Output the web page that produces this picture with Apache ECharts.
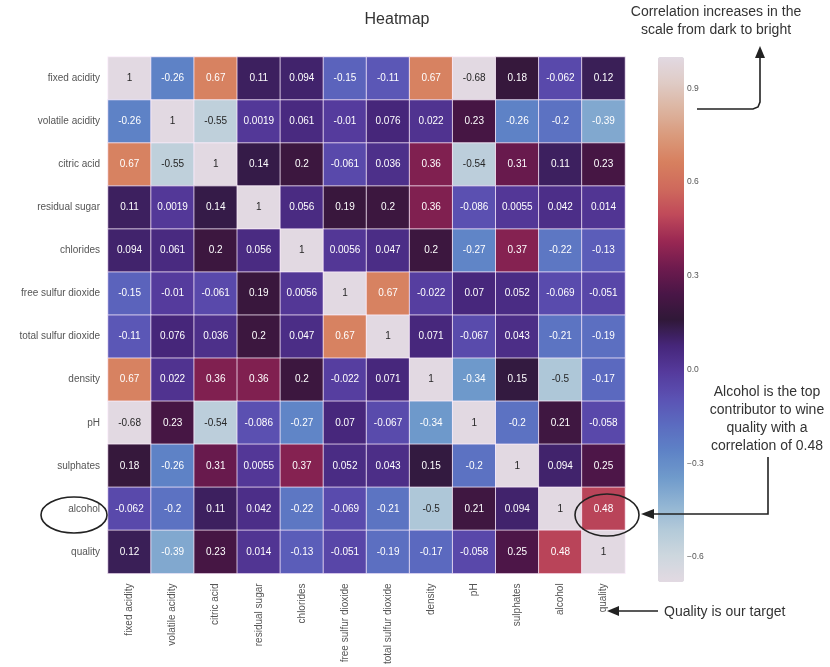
<!DOCTYPE html>
<html>
<head>
<meta charset="utf-8">
<title>Heatmap</title>
<script src="https://cdn.jsdelivr.net/npm/echarts@6.0.0/dist/echarts.min.js"></script>
<style>
  html, body { margin: 0; padding: 0; background: #ffffff; }
  #chart { width: 830px; height: 667px; }
</style>
</head>
<body>
<div id="chart"></div>
<script>
// Wine-quality features, in matrix order
const features = [
  'fixed acidity', 'volatile acidity', 'citric acid', 'residual sugar',
  'chlorides', 'free sulfur dioxide', 'total sulfur dioxide', 'density',
  'pH', 'sulphates', 'alcohol', 'quality'
];

// Pearson correlation of each feature against every feature (row by row)
const fixedAcidity       = [1, -0.26, 0.67, 0.11, 0.094, -0.15, -0.11, 0.67, -0.68, 0.18, -0.062, 0.12];
const volatileAcidity    = [-0.26, 1, -0.55, 0.0019, 0.061, -0.01, 0.076, 0.022, 0.23, -0.26, -0.2, -0.39];
const citricAcid         = [0.67, -0.55, 1, 0.14, 0.2, -0.061, 0.036, 0.36, -0.54, 0.31, 0.11, 0.23];
const residualSugar      = [0.11, 0.0019, 0.14, 1, 0.056, 0.19, 0.2, 0.36, -0.086, 0.0055, 0.042, 0.014];
const chlorides          = [0.094, 0.061, 0.2, 0.056, 1, 0.0056, 0.047, 0.2, -0.27, 0.37, -0.22, -0.13];
const freeSulfurDioxide  = [-0.15, -0.01, -0.061, 0.19, 0.0056, 1, 0.67, -0.022, 0.07, 0.052, -0.069, -0.051];
const totalSulfurDioxide = [-0.11, 0.076, 0.036, 0.2, 0.047, 0.67, 1, 0.071, -0.067, 0.043, -0.21, -0.19];
const density            = [0.67, 0.022, 0.36, 0.36, 0.2, -0.022, 0.071, 1, -0.34, 0.15, -0.5, -0.17];
const pH                 = [-0.68, 0.23, -0.54, -0.086, -0.27, 0.07, -0.067, -0.34, 1, -0.2, 0.21, -0.058];
const sulphates          = [0.18, -0.26, 0.31, 0.0055, 0.37, 0.052, 0.043, 0.15, -0.2, 1, 0.094, 0.25];
const alcohol            = [-0.062, -0.2, 0.11, 0.042, -0.22, -0.069, -0.21, -0.5, 0.21, 0.094, 1, 0.48];
const quality            = [0.12, -0.39, 0.23, 0.014, -0.13, -0.051, -0.19, -0.17, -0.058, 0.25, 0.48, 1];

const rows = [
  fixedAcidity, volatileAcidity, citricAcid, residualSugar, chlorides,
  freeSulfurDioxide, totalSulfurDioxide, density, pH, sulphates, alcohol, quality
];

// Colour scale range and colour bar ticks
const scaleMin = -0.68;
const scaleMax = 1;
const colorbarTicks = [-0.6, -0.3, 0, 0.3, 0.6, 0.9];

// "twilight" style cyclic palette, evenly spaced from scaleMin to scaleMax
const palette = [
  '#e2d9e2', '#cdd7de', '#b3cad9', '#8fb3d3', '#6f9acb', '#5e82c6',
  '#5b6bc0', '#5b52b3', '#553a9c', '#46267a', '#301838', '#4a1647',
  '#701b4e', '#9a2853', '#c04a5a', '#cf6a5c', '#d7805f', '#da9a7c',
  '#dcb4a0', '#dfcbc5', '#e2d9e2'
];

function hexToRgb(h) {
  const n = parseInt(h.slice(1), 16);
  return [(n >> 16) & 255, (n >> 8) & 255, n & 255];
}
function colorAt(v) {
  let t = (v - scaleMin) / (scaleMax - scaleMin);
  t = Math.max(0, Math.min(1, t)) * (palette.length - 1);
  const i = Math.min(Math.floor(t), palette.length - 2);
  const f = t - i;
  const a = hexToRgb(palette[i]), b = hexToRgb(palette[i + 1]);
  return a.map((c, k) => c + (b[k] - c) * f);
}
// Annotation colour follows the cell's relative luminance
function textColorFor(v) {
  const lin = colorAt(v).map(c => {
    c /= 255;
    return c <= 0.03928 ? c / 12.92 : Math.pow((c + 0.055) / 1.055, 2.4);
  });
  const lum = 0.2126 * lin[0] + 0.7152 * lin[1] + 0.0722 * lin[2];
  return lum > 0.408 ? '#262626' : '#ffffff';
}

const cells = [];
rows.forEach((row, r) => {
  row.forEach((v, c) => {
    cells.push({ value: [c, r, v], label: { color: textColorFor(v) } });
  });
});

const FONT = '"Liberation Sans", Arial, sans-serif';
const INK = '#222222';
const chart = echarts.init(document.getElementById('chart'), null, { renderer: 'canvas' });

chart.setOption({
  backgroundColor: '#ffffff',
  animation: false,
  textStyle: { fontFamily: FONT },
  grid: [
    { left: 108, top: 57, width: 517, height: 524 },
    { left: 658, top: 57, width: 26, height: 525 }
  ],
  xAxis: [
    {
      type: 'category',
      data: features,
      gridIndex: 0,
      position: 'bottom',
      axisLine: { show: false },
      axisTick: { show: false },
      splitArea: { show: false },
      axisLabel: {
        rotate: 90, interval: 0, margin: 10,
        fontSize: 10, color: '#555555', fontFamily: FONT
      }
    },
    { type: 'value', gridIndex: 1, show: false, min: 0, max: 1 }
  ],
  yAxis: [
    {
      type: 'category',
      data: features,
      gridIndex: 0,
      inverse: true,
      axisLine: { show: false },
      axisTick: { show: false },
      axisLabel: { interval: 0, margin: 8, fontSize: 10, color: '#555555', fontFamily: FONT }
    },
    {
      type: 'value',
      gridIndex: 1,
      min: scaleMin,
      max: scaleMax,
      position: 'right',
      axisLine: { show: false },
      splitLine: { show: false },
      axisTick: {
        show: true, length: 4, customValues: colorbarTicks,
        lineStyle: { color: '#555555', width: 1 }
      },
      axisLabel: {
        customValues: colorbarTicks, margin: 3, fontSize: 8.5, color: '#555555',
        formatter: v => (v < 0 ? '\u2212' : '') + Math.abs(v).toFixed(1)
      }
    }
  ],
  visualMap: {
    type: 'continuous',
    min: scaleMin,
    max: scaleMax,
    dimension: 2,
    seriesIndex: 0,
    calculable: false,
    hoverLink: false,
    orient: 'vertical',
    left: 658,
    top: 57,
    padding: 0,
    itemWidth: 26,
    itemHeight: 525,
    inRange: { color: palette }
  },
  series: [
    {
      type: 'heatmap',
      xAxisIndex: 0,
      yAxisIndex: 0,
      data: cells,
      itemStyle: { borderColor: 'rgba(255,240,255,0.75)', borderWidth: 1 },
      label: {
        show: true, fontSize: 10, fontFamily: FONT,
        formatter: p => String(p.value[2])
      },
      emphasis: { disabled: true }
    }
  ],
  graphic: [
    // Title
    { type: 'text', z: 100, x: 397, y: 20, style: { text: 'Heatmap', font: '16px ' + FONT, fill: '#333333', textAlign: 'center', textVerticalAlign: 'middle' } },
    // Scale note and arrow
    { type: 'text', z: 100, x: 716, y: 21, style: { text: 'Correlation increases in the\nscale from dark to bright', font: '14px ' + FONT, fill: '#333333', textAlign: 'center', textVerticalAlign: 'middle', lineHeight: 18 } },
    { type: 'polyline', z: 100, shape: { points: [[697, 109], [753, 109], [758, 107], [760, 102], [760, 56]] }, style: { stroke: INK, lineWidth: 1.6, fill: null } },
    { type: 'polygon', z: 100, shape: { points: [[760, 46], [755, 58], [765, 58]] }, style: { fill: INK } },
    // Alcohol note and arrow
    { type: 'text', z: 100, x: 767, y: 419, style: { text: 'Alcohol is the top\ncontributor to wine\nquality with a\ncorrelation of 0.48', font: '14px ' + FONT, fill: '#333333', textAlign: 'center', textVerticalAlign: 'middle', lineHeight: 18 } },
    { type: 'polyline', z: 100, shape: { points: [[768, 457], [768, 514], [652, 514]] }, style: { stroke: INK, lineWidth: 1.6, fill: null } },
    { type: 'polygon', z: 100, shape: { points: [[641, 514], [654, 509], [654, 519]] }, style: { fill: INK } },
    // Ellipses round the alcohol row label and the alcohol–quality cell
    { type: 'ellipse', z: 100, shape: { cx: 607, cy: 515, rx: 32, ry: 21 }, style: { stroke: INK, lineWidth: 1.6, fill: null } },
    { type: 'ellipse', z: 100, shape: { cx: 74, cy: 515, rx: 33, ry: 18 }, style: { stroke: INK, lineWidth: 1.6, fill: null } },
    // Target note and arrow
    { type: 'line', z: 100, shape: { x1: 658, y1: 611, x2: 617, y2: 611 }, style: { stroke: INK, lineWidth: 1.6 } },
    { type: 'polygon', z: 100, shape: { points: [[607, 611], [619, 606], [619, 616]] }, style: { fill: INK } },
    { type: 'text', z: 100, x: 664, y: 612, style: { text: 'Quality is our target', font: '14px ' + FONT, fill: '#333333', textAlign: 'left', textVerticalAlign: 'middle' } }
  ]
});
</script>
</body>
</html>
